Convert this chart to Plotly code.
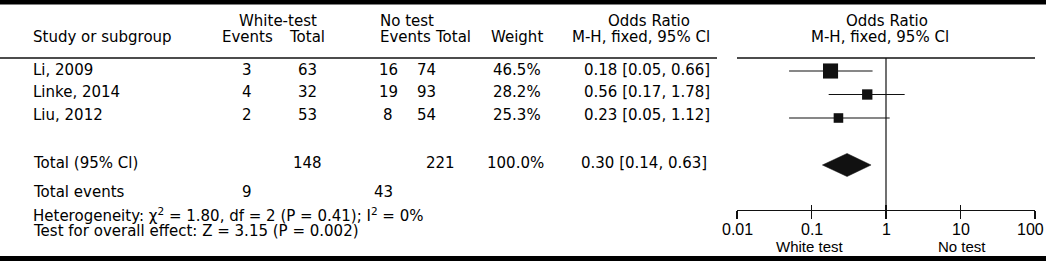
import math
import plotly.graph_objects as go

# ---------------- data ----------------
studies = ["Li, 2009", "Linke, 2014", "Liu, 2012"]
wt_events = [3, 4, 2]
wt_total = [63, 32, 53]
nt_events = [16, 19, 8]
nt_total = [74, 93, 54]
weights = [46.5, 28.2, 25.3]
or_est = [0.18, 0.56, 0.23]
or_lo = [0.05, 0.17, 0.05]
or_hi = [0.66, 1.78, 1.12]

total_wt = 148
total_nt = 221
total_weight = 100.0
total_or = 0.30
total_lo = 0.14
total_hi = 0.63
events_wt = 9
events_nt = 43

heterogeneity = "Heterogeneity: χ<sup>2</sup> = 1.80, df = 2 (P = 0.41); I<sup>2</sup> = 0%"
overall = "Test for overall effect: Z = 3.15 (P = 0.002)"

tick_vals = [0.01, 0.1, 1, 10, 100]
tick_text = ["0.01", "0.1", "1", "10", "100"]
favours_left = "White test"
favours_right = "No test"

# ---------------- geometry helpers ----------------
W, H = 1046, 261
ROW0, ROWH = 71.0, 23.5          # pixel y of first study row, row spacing
AXIS_Y = 210.0                   # pixel y of the x-axis line
PLOT_L, PLOT_R = 737.0, 1035.0


def px(x):
    return x / W


def py(y):
    return 1 - y / H


def rv(y):
    return (y - ROW0) / ROWH


FONT = "DejaVu Sans"
TXT = dict(family=FONT, size=15, color="#000")
ink = "#111111"

fig = go.Figure()

# vertical line of no effect
fig.add_trace(go.Scatter(x=[1, 1], y=[rv(58), rv(AXIS_Y)], mode="lines",
                         line=dict(color=ink, width=1.2), hoverinfo="skip"))

# study CIs and squares
rows = list(range(len(studies)))
for i in rows:
    fig.add_trace(go.Scatter(x=[or_lo[i], or_hi[i]], y=[i, i], mode="lines",
                             line=dict(color=ink, width=1.2), hoverinfo="skip"))
fig.add_trace(go.Scatter(
    x=or_est, y=rows, mode="markers",
    marker=dict(symbol="square", color=ink, opacity=1,
                size=[3 + 0.26 * w for w in weights],
                line=dict(width=0)),
    hoverinfo="skip"))

# pooled diamond
trow = 4
dh = 0.49
fig.add_trace(go.Scatter(
    x=[total_lo, total_or, total_hi, total_or, total_lo],
    y=[trow, trow - dh, trow, trow + dh, trow],
    mode="lines", fill="toself", fillcolor=ink,
    line=dict(color=ink, width=0.5), hoverinfo="skip"))

# dummy trace for overlay axis (upward ticks)
fig.add_trace(go.Scatter(x=[1], y=[trow], xaxis="x2", mode="markers",
                         marker=dict(opacity=0), hoverinfo="skip"))

ann = []


def t(x, y, text, anchor="center", font=TXT):
    ann.append(dict(x=px(x), y=py(y), xref="paper", yref="paper", text=text,
                    showarrow=False, xanchor=anchor, yanchor="middle",
                    font=font))


# headers
t(278, 21, "White-test")
t(407, 21, "No test")
t(649, 21, "Odds Ratio")
t(887, 21, "Odds Ratio")
t(31, 37, "Study or subgroup", "left")
t(247, 37, "Events")
t(307, 37, "Total")
t(405, 37, "Events")
t(453, 37, "Total")
t(517, 37, "Weight")
t(712, 37, "M-H, fixed, 95% Cl", "right")
t(880, 37, "M-H, fixed, 95% Cl")

# study rows
text_rows = [70, 92, 115]
for i, yy in enumerate(text_rows):
    t(31, yy, studies[i], "left")
    t(247, yy, str(wt_events[i]))
    t(307, yy, str(wt_total[i]))
    t(388, yy, str(nt_events[i]))
    t(426, yy, str(nt_total[i]))
    t(517, yy, f"{weights[i]:.1f}%")
    t(712, yy, f"{or_est[i]:.2f} [{or_lo[i]:.2f}, {or_hi[i]:.2f}]", "right")

# total row
t(31, 163, "Total (95% Cl)", "left")
t(307, 163, str(total_wt))
t(440, 163, str(total_nt))
t(515, 163, f"{total_weight:.1f}%")
t(709, 163, f"{total_or:.2f} [{total_lo:.2f}, {total_hi:.2f}]", "right")

t(31, 192, "Total events", "left")
t(247, 192, str(events_wt))
t(383, 192, str(events_nt))

t(31, 215, heterogeneity, "left")
t(31, 231, overall, "left")

AXF = dict(family="Liberation Sans", size=15, color="#000")
t(810, 246, favours_left, font=AXF)
t(962, 246, favours_right, font=AXF)

# axis tick labels, placed on the log axis
TICKF = dict(family="Liberation Sans", size=16, color="#000")
n_ticks = len(tick_vals)
for k, (v, lab) in enumerate(zip(tick_vals, tick_text)):
    ann.append(dict(x=math.log10(v), y=py(229), xref="x", yref="paper", text=lab,
                    showarrow=False, xanchor="center", yanchor="middle", font=TICKF,
                    xshift=-4.5 if k == n_ticks - 1 else 0))

shapes = [
    dict(type="rect", xref="paper", yref="paper", x0=0, x1=1, y0=py(0), y1=py(4.5),
         fillcolor="black", line=dict(width=0)),
    dict(type="rect", xref="paper", yref="paper", x0=0, x1=1, y0=py(256), y1=py(261),
         fillcolor="black", line=dict(width=0)),
    dict(type="line", xref="paper", yref="paper", x0=0, x1=px(717), y0=py(58), y1=py(58),
         line=dict(color=ink, width=1.3)),
    dict(type="line", xref="paper", yref="paper", x0=px(PLOT_L), x1=px(PLOT_R),
         y0=py(58), y1=py(58), line=dict(color=ink, width=1.3)),
]

xcommon = dict(type="log", range=[-2, 2], domain=[px(PLOT_L), px(PLOT_R)],
               showgrid=False, zeroline=False, tickvals=tick_vals,
               tickcolor=ink, tickwidth=1.2, fixedrange=True, automargin=False,
               showticklabels=False)

fig.update_layout(
    width=W, height=H,
    margin=dict(l=0, r=0, t=0, b=0, pad=0, autoexpand=False),
    paper_bgcolor="white", plot_bgcolor="white", showlegend=False,
    xaxis=dict(**xcommon, anchor="y", showline=True, linecolor=ink, linewidth=1.2,
               ticks="outside", ticklen=8),
    xaxis2=dict(**xcommon, anchor="y", overlaying="x", showline=False,
                ticks="inside", ticklen=5),
    yaxis=dict(domain=[(H - AXIS_Y) / H, 1], range=[rv(AXIS_Y), rv(0)],
               visible=False, fixedrange=True, automargin=False),
    annotations=ann, shapes=shapes,
)

fig.write_html(
    "out.html",
    config={"displayModeBar": False, "staticPlot": True},
    post_script="document.body.style.margin='0';document.body.style.overflow='hidden';",
)
